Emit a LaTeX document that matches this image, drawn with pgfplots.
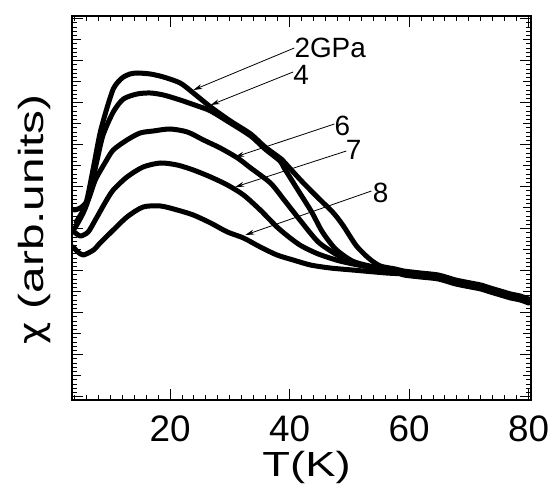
\documentclass[border=0pt]{standalone}
\usepackage{pgfplots}
\pgfplotsset{compat=1.18}
\usepackage{fontspec}
\setmainfont{Liberation Sans}
\newfontfamily\xlabfont[FakeStretch=1.3]{Liberation Sans}
\newfontfamily\ylabfont[FakeStretch=1.37]{Liberation Sans}
\newfontfamily\chifont[FakeStretch=1.1]{DejaVu Sans}
\usetikzlibrary{arrows.meta}
\pgfplotsset{curve/.style={black, solid, mark=none, line width=5bp, line join=round, line cap=round, smooth, tension=0.45}}
\begin{document}
\begin{tikzpicture}
\begin{axis}[
  at={(72bp,86bp)}, anchor=south west,
  scale only axis, width=459bp, height=384bp,
  xmin=3.6, xmax=80.4, ymin=0, ymax=384,
  xtick={0,20,40,60,80,100},
  minor x tick num=9,
  ytick={-38.7,3.3,45.3,87.3,129.3,171.3,213.3,255.3,297.3,339.3,381.3,423.3},
  minor y tick num=9,
  yticklabels={},
  extra y ticks={24.3,66.3,108.3,150.3,192.3,234.3,276.3,318.3,360.3},
  extra y tick labels={},
  extra y tick style={major tick length=8.5bp},
  major tick length=11bp, minor tick length=5bp,
  tick align=inside,
  tick pos=both,
  axis line style={line width=1.4bp},
  every tick/.style={black, line width=0.9bp},
  /pgf/number format/assume math mode=true,
  xticklabel style={font=\fontsize{37}{37}\selectfont, anchor=base, yshift=-41.7bp, inner sep=0pt},
  xlabel={T(K)},
  xlabel style={font=\xlabfont\fontsize{35}{35}\selectfont, at={(axis description cs:0.511,-0.198)}, anchor=base, inner sep=0pt},
  ylabel={{\chifont χ} (arb.units)},
  ylabel style={font=\ylabfont\fontsize{35}{35}\selectfont, at={(axis description cs:-0.0625,0.47)}, anchor=base, rotate=0, inner sep=0pt},
]
% 2 GPa
\addplot[curve] coordinates {
(4.3,178) (5.5,190) (6.2,203) (7.2,233) (8.3,267) (9.5,293) (10.5,311) (11.3,318) (12.2,323) (13.3,326) (14.5,327) (16.7,326) (18.9,323) (21.7,317) (23.9,307) (26.8,293) (30.1,279) (33.5,266) (35.9,253) (38.4,242) (39.1,238) (42.0,219) (44.8,202) (47.2,188) (48.9,175) (51.2,154) (53.4,141) (55.2,134) (57.7,131) (59.1,129) (61.9,127) (64.9,125) (67.8,120) (70.3,117) (72.0,115) (73.6,112) (75.3,109) (77.0,106) (78.6,104) (80.0,101)
};
% 4 GPa
\addplot[curve] coordinates {
(4.1,172) (5.3,185) (6.3,200) (7.8,240) (8.8,265) (10.5,288) (12.2,301) (14.5,306) (16.7,307) (18.9,305) (21.7,300) (24.6,294) (26.8,289) (30.1,277) (33.5,264) (35.9,251) (38.4,239) (39.1,232) (41.5,209) (43.7,188) (45.5,168) (47.7,151) (50.5,139) (53.4,134) (57.0,130) (59.1,127) (61.9,125) (64.9,123) (67.8,118) (70.3,115) (72.0,113) (73.6,110) (75.3,107) (77.0,104) (78.6,102) (80.0,99)
};
% 6 GPa
\addplot[curve] coordinates {
(4.0,190) (5.0,192) (6.3,200) (7.5,220) (9.2,238) (10.5,250) (12.8,260) (15.0,267) (17.2,269) (20.0,271) (22.9,268) (25.6,260) (28.4,252) (31.3,242) (33.5,232) (36.8,217) (39.1,200) (42.0,178) (44.8,158) (47.7,146) (50.5,137) (54.1,132) (57.7,128) (59.1,125) (61.9,123) (64.9,121) (67.8,116) (70.3,113) (72.0,111) (73.6,108) (75.3,105) (77.0,102) (78.6,100) (80.0,97)
};
% 7 GPa
\addplot[curve] coordinates {
(4.0,168) (5.0,164) (6.3,168) (7.5,180) (9.2,198) (10.5,210) (12.8,223) (15.5,233) (18.4,237) (21.2,235) (23.9,230) (26.8,223) (29.6,215) (32.3,205) (35.1,190) (37.9,173) (40.1,162) (42.0,154) (44.8,146) (48.4,139) (52.4,134) (57.0,130) (59.1,128) (61.9,126) (64.9,124) (67.8,119) (70.3,116) (72.0,114) (73.6,111) (75.3,108) (77.0,105) (78.6,103) (80.0,100)
};
% 8 GPa
\addplot[curve] coordinates {
(3.8,153) (4.6,148) (5.5,145) (7.2,150) (8.3,157) (10.0,167) (12.8,183) (15.5,193) (18.4,194) (21.2,190) (23.9,185) (26.8,177) (29.6,168) (32.3,162) (35.1,153) (37.9,145) (40.6,140) (43.5,135) (46.8,132) (50.5,130) (56.2,127) (59.1,126) (61.9,124) (64.9,122) (67.8,117) (70.3,114) (72.0,112) (73.6,109) (75.3,106) (77.0,103) (78.6,101) (80.0,98)
};
% annotations
\draw[-{Stealth[length=9bp,width=5bp]}, line width=0.8bp] (axis cs:40.8,352) -- (axis cs:23.9,310);
\draw[-{Stealth[length=9bp,width=5bp]}, line width=0.8bp] (axis cs:40.6,328) -- (axis cs:26.8,295);
\draw[-{Stealth[length=9bp,width=5bp]}, line width=0.8bp] (axis cs:47.5,276) -- (axis cs:30.9,243);
\draw[-{Stealth[length=9bp,width=5bp]}, line width=0.8bp] (axis cs:49.5,249) -- (axis cs:30.9,213);
\draw[-{Stealth[length=9bp,width=5bp]}, line width=0.8bp] (axis cs:53.7,209) -- (axis cs:32.6,165);
\node[anchor=west, inner sep=0pt, font=\fontsize{28}{28}\selectfont] at (axis cs:40.8,352) {2GPa};
\node[anchor=west, inner sep=0pt, font=\fontsize{28}{28}\selectfont] at (axis cs:40.6,325) {4};
\node[anchor=west, inner sep=0pt, font=\fontsize{28}{28}\selectfont] at (axis cs:47.5,274) {6};
\node[anchor=west, inner sep=0pt, font=\fontsize{28}{28}\selectfont] at (axis cs:49.4,250) {7};
\node[anchor=west, inner sep=0pt, font=\fontsize{28}{28}\selectfont] at (axis cs:53.9,207) {8};
\end{axis}
\pgfresetboundingbox
\path[use as bounding box] (0,0) rectangle (548bp,486bp);
\end{tikzpicture}
\end{document}
